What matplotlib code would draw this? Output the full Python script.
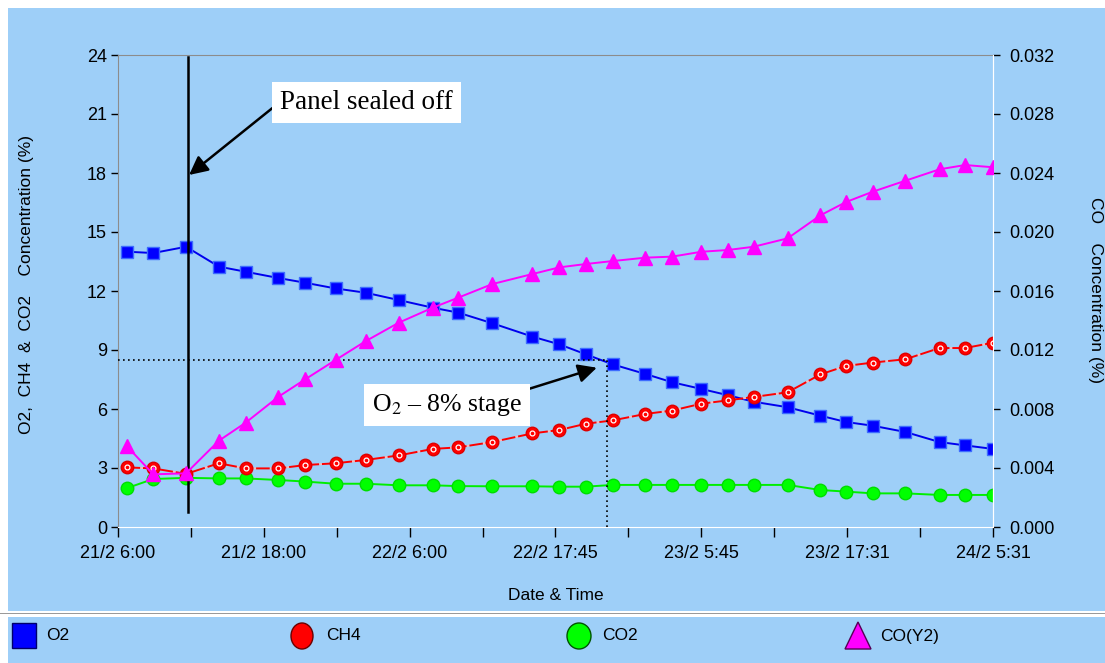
import matplotlib
matplotlib.use("Agg")
import matplotlib.pyplot as plt
from matplotlib.patches import Rectangle, Ellipse, Polygon
from matplotlib.transforms import Affine2D

W, H = 1105, 663
BG = "#9ECFF8"

plt.rcParams["font.family"] = ["Liberation Sans", "DejaVu Sans"]
plt.rcParams["mathtext.fontset"] = "stix"

# hours elapsed since 21/2 6:00
hours = [0.7, 2.9, 5.6, 8.3, 10.5, 13.2, 15.4, 17.9, 20.4, 23.1,
         25.9, 28.0, 30.8, 34.1, 36.3, 38.5, 40.7, 43.4, 45.6, 48.0,
         50.2, 52.3, 55.1, 57.8, 59.9, 62.1, 64.8, 67.6, 69.7, 72.0]
o2 = [14.0, 13.93, 14.25, 13.24, 12.98, 12.66, 12.42, 12.13, 11.91, 11.54,
      11.15, 10.9, 10.36, 9.68, 9.29, 8.78, 8.27, 7.78, 7.36, 7.02,
      6.70, 6.37, 6.09, 5.66, 5.34, 5.15, 4.83, 4.32, 4.15, 3.97]
ch4 = [3.03, 2.98, 2.7, 3.24, 2.98, 2.98, 3.15, 3.24, 3.41, 3.64,
       3.97, 4.05, 4.32, 4.76, 4.93, 5.25, 5.42, 5.75, 5.92, 6.27,
       6.44, 6.61, 6.85, 7.76, 8.19, 8.36, 8.53, 9.10, 9.10, 9.37]
co2 = [1.97, 2.44, 2.5, 2.47, 2.47, 2.39, 2.31, 2.2, 2.2, 2.12,
       2.12, 2.08, 2.07, 2.07, 2.05, 2.05, 2.14, 2.14, 2.14, 2.14,
       2.14, 2.14, 2.14, 1.88, 1.80, 1.71, 1.71, 1.63, 1.63, 1.63]
co = [0.00551, 0.00357, 0.00364, 0.00585, 0.00707, 0.00883, 0.01001, 0.01132, 0.01261, 0.01385,
      0.01487, 0.01555, 0.01647, 0.01715, 0.01760, 0.01783, 0.01803, 0.01826, 0.01833, 0.01866,
      0.01878, 0.01900, 0.01957, 0.02113, 0.02203, 0.02273, 0.02348, 0.02425, 0.02454, 0.02439]

tick_hours = list(range(0, 73, 6))
tick_labels = ["21/2 6:00", "", "21/2 18:00", "", "22/2 6:00", "", "22/2 17:45",
               "", "23/2 5:45", "", "23/2 17:31", "", "24/2 5:31"]
left_ticks = list(range(0, 25, 3))
right_ticks = [0.000, 0.004, 0.008, 0.012, 0.016, 0.020, 0.024, 0.028, 0.032]

seal_hour = 5.8
stage_hour = 40.2
stage_level = 8.5

fig = plt.figure(figsize=(W / 100, H / 100), dpi=100, facecolor="white")
# pixel coordinates, origin top-left
pix = Affine2D().scale(1 / W, -1 / H).translate(0, 1) + fig.transFigure

fig.patches.append(Rectangle((8, 8), W - 8, 603, transform=pix, facecolor=BG,
                             edgecolor="none", zorder=-2))
fig.patches.append(Rectangle((8, 617), W - 8, H - 617, transform=pix, facecolor=BG,
                             edgecolor="none", zorder=-2))
fig.patches.append(Rectangle((0, 612.5), W, 1.5, transform=pix, facecolor="#9A9A9A",
                             edgecolor="none", zorder=-1))

ax = fig.add_axes([118 / W, 1 - 527 / H, 875 / W, 472 / H])
ax.set_facecolor(BG)
ax2 = ax.twinx()

ax.plot(hours, co2, color="#00EE00", lw=1.4, marker="o", ms=9,
        mfc="#00FF00", mec="#00DD00", zorder=2)
ax.plot(hours, o2, color="#0000EE", lw=1.4, marker="s", ms=8.5,
        mfc="#0000FF", mec="#3D6BFF", zorder=3)
ax.plot(hours, ch4, color="#FF0000", lw=1.4, dashes=(7, 1.5), gapcolor="#FFB8B8",
        marker="o", ms=9, mfc="#FF0000", mec="#DD0000", zorder=4)
ax.plot(hours, ch4, ls="none", marker="o", ms=3.5, mfc="none", mec="white",
        mew=0.9, zorder=5)
ax2.plot(hours, co, color="#FF00FF", lw=1.4, marker="^", ms=10,
         mfc="#FF00FF", mec="#FF00FF", zorder=3)

# sealing time and the O2 stage guide lines
ax.plot([seal_hour, seal_hour], [0.76, 23.9], color="black", lw=1.8, zorder=6)
ax.plot([0, stage_hour], [stage_level, stage_level], color="black", lw=1.2,
        ls=(0, (1, 2)), zorder=6)
ax.plot([stage_hour, stage_hour], [0, stage_level], color="black", lw=1.2,
        ls=(0, (1, 2)), zorder=6)

ax.set_xlim(0, 72)
ax.set_ylim(0, 24)
ax2.set_ylim(0, 0.032)
ax.set_xticks(tick_hours)
ax.set_xticklabels(tick_labels)
ax.set_yticks(left_ticks)
ax2.set_yticks(right_ticks)
ax2.set_yticklabels([f"{v:.3f}" for v in right_ticks])

for a in (ax, ax2):
    a.tick_params(direction="out", length=5, width=1, labelsize=13, colors="black")
ax.tick_params(axis="x", length=7, pad=6)
ax.tick_params(axis="y", pad=3)
ax2.tick_params(axis="y", pad=7)

for name in ("left", "top"):
    ax.spines[name].set_color("#8C8C8C")
for name in ("right", "bottom"):
    ax.spines[name].set_color("white")
for name in ("left", "top", "bottom"):
    ax2.spines[name].set_visible(False)
ax2.spines["right"].set_color("white")

fig.text(27, 285, "O2,  CH4  &  CO2    Concentration (%)", transform=pix,
         fontsize=12.5, rotation=90, ha="center", va="center")
fig.text(1096, 290, "CO    Concentration (%)", transform=pix,
         fontsize=12.5, rotation=270, ha="center", va="center")

box = dict(boxstyle="square,pad=0.3", facecolor="white", edgecolor="none")
ax.text(13.3, 21.6, "Panel sealed off", fontsize=19.5, family="Liberation Serif",
        va="center", ha="left", bbox=box, zorder=8)
ax.annotate("", xy=(5.85, 17.9), xytext=(12.7, 21.3),
            arrowprops=dict(arrowstyle="-|>", mutation_scale=28, lw=1.8,
                            color="black", shrinkA=0, shrinkB=0), zorder=7)
ax.text(20.9, 6.2, r"O$_2$ – 8% stage", fontsize=18.5, family="Liberation Serif",
        va="center", ha="left", bbox=box, zorder=8)
ax.annotate("", xy=(39.4, 8.1), xytext=(33.7, 7.0),
            arrowprops=dict(arrowstyle="-|>", mutation_scale=28, lw=1.8,
                            color="black", shrinkA=0, shrinkB=0), zorder=7)

fig.text(556, 595, "Date & Time", transform=pix, fontsize=12.5,
         ha="center", va="center")

# legend strip
fig.patches.append(Rectangle((12, 623), 24, 25, transform=pix, facecolor="#0000FF",
                             edgecolor="#00006A", lw=1, zorder=3))
fig.patches.append(Ellipse((302, 636), 22, 26, transform=pix, facecolor="#FF0000",
                           edgecolor="#6A0000", lw=1, zorder=3))
fig.patches.append(Ellipse((579, 636), 24, 26, transform=pix, facecolor="#00FF00",
                           edgecolor="#005500", lw=1, zorder=3))
fig.patches.append(Polygon([(845, 649), (871, 649), (858, 622)], closed=True,
                           transform=pix, facecolor="#FF00FF", edgecolor="#550055",
                           lw=1, zorder=3))
for x, label in [(46, "O2"), (326, "CH4"), (602, "CO2"), (880, "CO(Y2)")]:
    fig.text(x, 636, label, transform=pix, fontsize=12.5, ha="left", va="center")

fig.savefig("out.png", dpi=100, facecolor=fig.get_facecolor())
